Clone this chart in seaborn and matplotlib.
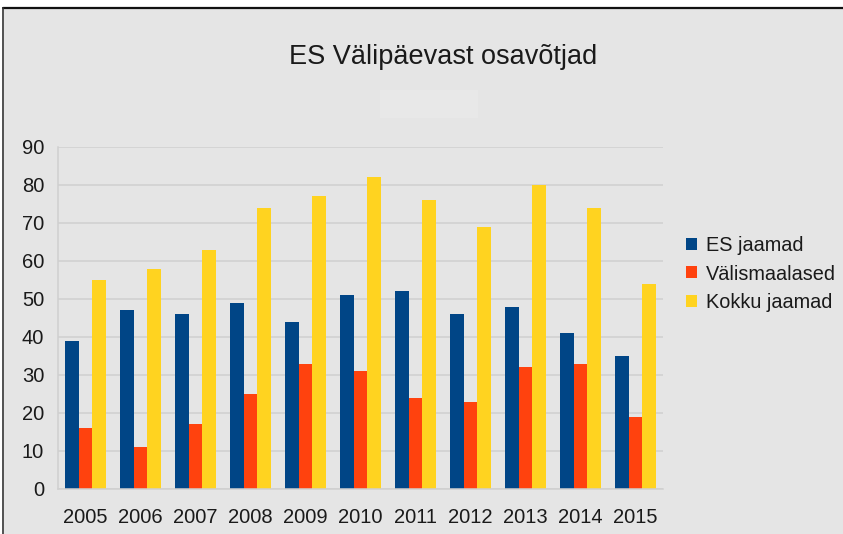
import matplotlib
matplotlib.use("Agg")
import matplotlib.pyplot as plt
from matplotlib.lines import Line2D
from matplotlib.patches import Rectangle
from matplotlib.ticker import FixedLocator
import seaborn as sns
import pandas as pd

# ----------------- Data -----------------
years = ["2005", "2006", "2007", "2008", "2009", "2010",
         "2011", "2012", "2013", "2014", "2015"]
es_jaamad = [39, 47, 46, 49, 44, 51, 52, 46, 48, 41, 35]
valismaalased = [16, 11, 17, 25, 33, 31, 24, 23, 32, 33, 19]
kokku_jaamad = [55, 58, 63, 74, 77, 82, 76, 69, 80, 74, 54]

series_names = ["ES jaamad", "Välismaalased", "Kokku jaamad"]
colors = ["#004586", "#ff420e", "#ffd320"]
title = "ES Välipäevast osavõtjad"

df = pd.DataFrame({"Aasta": years,
                   series_names[0]: es_jaamad,
                   series_names[1]: valismaalased,
                   series_names[2]: kokku_jaamad})
long_df = df.melt(id_vars="Aasta", var_name="Sari", value_name="Arv")

# ----------------- Style -----------------
bg = "#e5e5e5"
grid_col = "#d0d0d0"
text_col = "#1a1a1a"
sns.set_style("white")
plt.rcParams["font.family"] = ["Liberation Sans", "DejaVu Sans"]
plt.rcParams["text.color"] = text_col

fig = plt.figure(figsize=(8.43, 5.34), dpi=100)
fig.patch.set_facecolor("white")

# grey chart area with dark frame on top/left
fig.add_artist(Rectangle((4 / 843, 0), 1, (534 - 8) / 534,
                         transform=fig.transFigure, facecolor=bg,
                         edgecolor="none", zorder=-10))
fig.add_artist(Line2D([3.5 / 843, 1], [1 - 8 / 534, 1 - 8 / 534],
                      transform=fig.transFigure, color="#111111", lw=1.6))
fig.add_artist(Line2D([3.5 / 843, 3.5 / 843], [0, 1 - 8 / 534],
                      transform=fig.transFigure, color="#333333", lw=1.2))
# faint placeholder box under the title
fig.add_artist(Rectangle((380 / 843, 1 - 118 / 534), 98 / 843, 28 / 534,
                         transform=fig.transFigure, facecolor="#e8e8e8",
                         edgecolor="none", zorder=-5))

ax = fig.add_axes([58 / 843, 45 / 534, 605 / 843, 342 / 534])
ax.set_facecolor(bg)

sns.barplot(data=long_df, x="Aasta", y="Arv", hue="Sari",
            palette=colors, width=0.74, gap=0, linewidth=0,
            saturation=1, ax=ax)

ax.set_ylim(0, 90)
ax.set_xlim(-0.5, len(years) - 0.5)
ax.set_yticks(range(0, 91, 10))
ax.yaxis.grid(True, color=grid_col, lw=1.1)
ax.set_axisbelow(True)
for s in ["top", "right"]:
    ax.spines[s].set_visible(False)
for s in ["left", "bottom"]:
    ax.spines[s].set_color(grid_col)
    ax.spines[s].set_linewidth(1.1)

ax.xaxis.set_minor_locator(FixedLocator([i - 0.5 for i in range(len(years) + 1)]))
ax.tick_params(axis="x", which="major", length=0, pad=13.5,
               labelsize=14.5, labelcolor=text_col)
ax.tick_params(axis="x", which="minor", length=6, width=1.1,
               color=grid_col, direction="out")
ax.tick_params(axis="y", length=7, width=1.1, color=grid_col, pad=3,
               labelsize=14.5, labelcolor=text_col)
ax.set_xlabel("")
ax.set_ylabel("")

handles, labels = ax.get_legend_handles_labels()
ax.legend(handles, labels, loc="center left",
          bbox_to_anchor=(686 / 843, (534 - 274) / 534),
          bbox_transform=fig.transFigure, frameon=False,
          fontsize=14.3, handlelength=0.55, handleheight=0.55,
          handletextpad=0.45, labelspacing=0.5, borderpad=0,
          borderaxespad=0)

fig.text(443 / 843, 1 - 57 / 534, title, ha="center", va="center",
         fontsize=19.5, color=text_col)

fig.savefig("out.png", dpi=100, facecolor=fig.get_facecolor())
